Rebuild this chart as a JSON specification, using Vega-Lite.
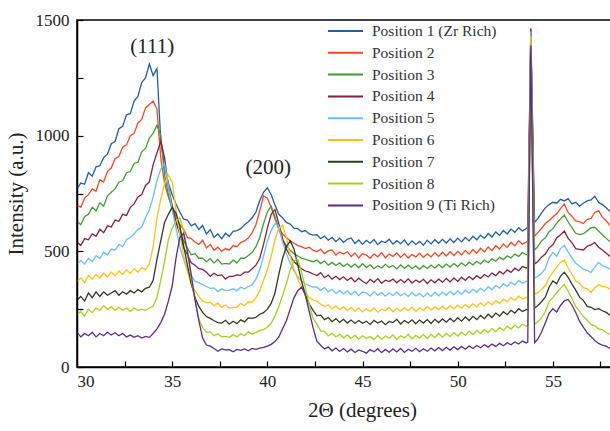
{
"$schema":"https://vega.github.io/schema/vega-lite/v6.json",
"width":533,"height":347,
"autosize":{"type":"none"},
"padding":{"left":77,"top":20,"right":0,"bottom":64},
"background":"white",
"config":{"view":{"stroke":null},"font":"Liberation Serif, Times New Roman, serif",
"text":{"font":"Liberation Serif, Times New Roman, serif"},
"axis":{"grid":false,"domain":true,"ticks":true,"domainColor":"black","tickColor":"black","domainWidth":1.5,"tickWidth":1.2}},
"datasets":{"frame":[{"fx":58.5,"fy":0,"o":1},{"fx":30,"fy":0,"o":2},{"fx":30,"fy":1500,"o":3},{"fx":58.5,"fy":1500,"o":4}]},
"data":{"values":[
{"x":30.0,"p1":770,"p2":700,"p3":630,"p4":540,"p5":445,"p6":370,"p7":290,"p8":225,"p9":150},
{"x":30.2,"p1":795,"p2":690,"p3":615,"p4":525,"p5":460,"p6":385,"p7":305,"p8":240,"p9":130},
{"x":30.4,"p1":790,"p2":730,"p3":650,"p4":555,"p5":445,"p6":365,"p7":285,"p8":220,"p9":145},
{"x":30.6,"p1":840,"p2":745,"p3":660,"p4":550,"p5":470,"p6":395,"p7":320,"p8":250,"p9":135},
{"x":30.8,"p1":825,"p2":770,"p3":690,"p4":575,"p5":455,"p6":380,"p7":300,"p8":235,"p9":150},
{"x":31.0,"p1":865,"p2":760,"p3":675,"p4":565,"p5":480,"p6":400,"p7":325,"p8":255,"p9":130},
{"x":31.2,"p1":870,"p2":810,"p3":710,"p4":595,"p5":470,"p6":385,"p7":305,"p8":245,"p9":145},
{"x":31.4,"p1":905,"p2":800,"p3":695,"p4":580,"p5":495,"p6":405,"p7":325,"p8":265,"p9":135},
{"x":31.6,"p1":920,"p2":845,"p3":740,"p4":610,"p5":485,"p6":390,"p7":310,"p8":250,"p9":150},
{"x":31.8,"p1":965,"p2":860,"p3":755,"p4":605,"p5":510,"p6":410,"p7":320,"p8":260,"p9":138},
{"x":32.0,"p1":975,"p2":900,"p3":770,"p4":635,"p5":505,"p6":395,"p7":330,"p8":245,"p9":148},
{"x":32.2,"p1":1030,"p2":910,"p3":800,"p4":630,"p5":530,"p6":415,"p7":310,"p8":258,"p9":135},
{"x":32.4,"p1":1040,"p2":950,"p3":805,"p4":660,"p5":520,"p6":400,"p7":325,"p8":245,"p9":145},
{"x":32.6,"p1":1090,"p2":960,"p3":840,"p4":655,"p5":550,"p6":420,"p7":315,"p8":255,"p9":130},
{"x":32.8,"p1":1095,"p2":1000,"p3":845,"p4":690,"p5":560,"p6":405,"p7":330,"p8":240,"p9":138},
{"x":33.0,"p1":1150,"p2":1010,"p3":880,"p4":705,"p5":575,"p6":425,"p7":320,"p8":255,"p9":128},
{"x":33.2,"p1":1170,"p2":1055,"p3":885,"p4":735,"p5":595,"p6":410,"p7":335,"p8":245,"p9":135},
{"x":33.4,"p1":1230,"p2":1070,"p3":930,"p4":745,"p5":605,"p6":430,"p7":325,"p8":250,"p9":125},
{"x":33.6,"p1":1250,"p2":1120,"p3":945,"p4":785,"p5":645,"p6":420,"p7":340,"p8":245,"p9":132},
{"x":33.8,"p1":1310,"p2":1135,"p3":990,"p4":800,"p5":680,"p6":445,"p7":345,"p8":255,"p9":128},
{"x":34.0,"p1":1260,"p2":1150,"p3":1010,"p4":875,"p5":735,"p6":520,"p7":375,"p8":262,"p9":145},
{"x":34.2,"p1":1290,"p2":1115,"p3":1045,"p4":925,"p5":805,"p6":645,"p7":465,"p8":300,"p9":165},
{"x":34.4,"p1":980,"p2":905,"p3":1000,"p4":975,"p5":855,"p6":725,"p7":545,"p8":375,"p9":192},
{"x":34.6,"p1":865,"p2":795,"p3":830,"p4":905,"p5":880,"p6":795,"p7":625,"p8":455,"p9":228},
{"x":34.8,"p1":795,"p2":735,"p3":745,"p4":780,"p5":785,"p6":830,"p7":660,"p8":550,"p9":285},
{"x":35.0,"p1":745,"p2":690,"p3":680,"p4":700,"p5":680,"p6":800,"p7":690,"p8":600,"p9":350},
{"x":35.2,"p1":705,"p2":650,"p3":630,"p4":625,"p5":600,"p6":680,"p7":665,"p8":630,"p9":470},
{"x":35.4,"p1":670,"p2":615,"p3":595,"p4":575,"p5":520,"p6":575,"p7":610,"p8":645,"p9":560},
{"x":35.6,"p1":640,"p2":595,"p3":545,"p4":515,"p5":465,"p6":480,"p7":525,"p8":590,"p9":578},
{"x":35.8,"p1":635,"p2":560,"p3":515,"p4":485,"p5":415,"p6":415,"p7":440,"p8":500,"p9":500},
{"x":36.0,"p1":610,"p2":555,"p3":485,"p4":450,"p5":395,"p6":355,"p7":360,"p8":380,"p9":400},
{"x":36.2,"p1":620,"p2":540,"p3":490,"p4":440,"p5":370,"p6":330,"p7":300,"p8":290,"p9":290},
{"x":36.4,"p1":595,"p2":530,"p3":470,"p4":425,"p5":365,"p6":305,"p7":262,"p8":210,"p9":200},
{"x":36.6,"p1":612,"p2":548,"p3":470,"p4":422,"p5":356,"p6":284,"p7":236,"p8":170,"p9":125},
{"x":36.8,"p1":575,"p2":515,"p3":455,"p4":410,"p5":348,"p6":278,"p7":218,"p8":150,"p9":95},
{"x":37.0,"p1":594,"p2":530,"p3":468,"p4":392,"p5":340,"p6":280,"p7":210,"p8":152,"p9":90},
{"x":37.2,"p1":560,"p2":505,"p3":450,"p4":405,"p5":342,"p6":265,"p7":200,"p8":135,"p9":80},
{"x":37.4,"p1":575,"p2":518,"p3":465,"p4":395,"p5":326,"p6":276,"p7":192,"p8":144,"p9":68},
{"x":37.6,"p1":555,"p2":500,"p3":445,"p4":398,"p5":338,"p6":258,"p7":190,"p8":130,"p9":78},
{"x":37.8,"p1":578,"p2":512,"p3":448,"p4":380,"p5":330,"p6":268,"p7":202,"p8":132,"p9":74},
{"x":38.0,"p1":565,"p2":505,"p3":445,"p4":392,"p5":332,"p6":255,"p7":185,"p8":128,"p9":75},
{"x":38.2,"p1":586,"p2":525,"p3":462,"p4":392,"p5":338,"p6":258,"p7":198,"p8":140,"p9":66},
{"x":38.4,"p1":590,"p2":520,"p3":450,"p4":398,"p5":330,"p6":258,"p7":188,"p8":130,"p9":76},
{"x":38.6,"p1":598,"p2":538,"p3":470,"p4":396,"p5":345,"p6":275,"p7":204,"p8":144,"p9":72},
{"x":38.8,"p1":615,"p2":545,"p3":470,"p4":410,"p5":338,"p6":265,"p7":195,"p8":135,"p9":78},
{"x":39.0,"p1":628,"p2":558,"p3":482,"p4":410,"p5":348,"p6":282,"p7":212,"p8":152,"p9":70},
{"x":39.2,"p1":645,"p2":580,"p3":495,"p4":425,"p5":355,"p6":280,"p7":210,"p8":142,"p9":80},
{"x":39.4,"p1":670,"p2":615,"p3":520,"p4":440,"p5":380,"p6":300,"p7":215,"p8":150,"p9":76},
{"x":39.6,"p1":720,"p2":675,"p3":560,"p4":470,"p5":420,"p6":330,"p7":228,"p8":158,"p9":82},
{"x":39.8,"p1":755,"p2":740,"p3":620,"p4":530,"p5":480,"p6":375,"p7":235,"p8":162,"p9":85},
{"x":40.0,"p1":775,"p2":730,"p3":670,"p4":600,"p5":545,"p6":420,"p7":250,"p8":172,"p9":90},
{"x":40.2,"p1":745,"p2":690,"p3":695,"p4":660,"p5":590,"p6":480,"p7":275,"p8":190,"p9":98},
{"x":40.4,"p1":700,"p2":640,"p3":650,"p4":680,"p5":620,"p6":550,"p7":320,"p8":220,"p9":110},
{"x":40.6,"p1":660,"p2":600,"p3":595,"p4":620,"p5":610,"p6":600,"p7":400,"p8":260,"p9":130},
{"x":40.8,"p1":645,"p2":575,"p3":550,"p4":555,"p5":540,"p6":612,"p7":470,"p8":310,"p9":165},
{"x":41.0,"p1":625,"p2":560,"p3":525,"p4":510,"p5":490,"p6":560,"p7":520,"p8":360,"p9":200},
{"x":41.2,"p1":618,"p2":545,"p3":505,"p4":480,"p5":450,"p6":480,"p7":545,"p8":420,"p9":250},
{"x":41.4,"p1":600,"p2":535,"p3":490,"p4":455,"p5":415,"p6":425,"p7":510,"p8":460,"p9":300},
{"x":41.6,"p1":598,"p2":525,"p3":480,"p4":440,"p5":390,"p6":380,"p7":440,"p8":465,"p9":330},
{"x":41.8,"p1":585,"p2":520,"p3":470,"p4":425,"p5":372,"p6":345,"p7":370,"p8":410,"p9":345},
{"x":42.0,"p1":590,"p2":512,"p3":465,"p4":415,"p5":360,"p6":320,"p7":310,"p8":340,"p9":310},
{"x":42.2,"p1":575,"p2":518,"p3":460,"p4":410,"p5":352,"p6":300,"p7":272,"p8":270,"p9":240},
{"x":42.4,"p1":570,"p2":505,"p3":455,"p4":402,"p5":345,"p6":290,"p7":245,"p8":210,"p9":170},
{"x":42.6,"p1":572,"p2":498,"p3":462,"p4":395,"p5":346,"p6":285,"p7":222,"p8":185,"p9":112},
{"x":42.8,"p1":555,"p2":510,"p3":447,"p4":408,"p5":331,"p6":270,"p7":224,"p8":156,"p9":94},
{"x":43.0,"p1":566,"p2":490,"p3":458,"p4":386,"p5":344,"p6":262,"p7":205,"p8":154,"p9":78},
{"x":43.2,"p1":548,"p2":502,"p3":440,"p4":397,"p5":325,"p6":268,"p7":214,"p8":135,"p9":86},
{"x":43.4,"p1":560,"p2":506,"p3":452,"p4":380,"p5":336,"p6":252,"p7":196,"p8":146,"p9":70},
{"x":43.6,"p1":542,"p2":484,"p3":439,"p4":392,"p5":318,"p6":264,"p7":209,"p8":130,"p9":82},
{"x":43.8,"p1":557,"p2":497,"p3":450,"p4":378,"p5":330,"p6":248,"p7":193,"p8":141,"p9":67},
{"x":44.0,"p1":539,"p2":488,"p3":435,"p4":390,"p5":316,"p6":260,"p7":206,"p8":126,"p9":80},
{"x":44.2,"p1":552,"p2":499,"p3":446,"p4":374,"p5":329,"p6":244,"p7":190,"p8":138,"p9":65},
{"x":44.4,"p1":558,"p2":478,"p3":432,"p4":386,"p5":312,"p6":257,"p7":203,"p8":124,"p9":77},
{"x":44.6,"p1":534,"p2":493,"p3":445,"p4":368,"p5":327,"p6":242,"p7":188,"p8":137,"p9":63},
{"x":44.8,"p1":549,"p2":471,"p3":429,"p4":384,"p5":309,"p6":256,"p7":201,"p8":121,"p9":74},
{"x":45.0,"p1":530,"p2":490,"p3":447,"p4":371,"p5":324,"p6":238,"p7":189,"p8":135,"p9":68},
{"x":45.2,"p1":547,"p2":484,"p3":430,"p4":360,"p5":320,"p6":252,"p7":198,"p8":123,"p9":60},
{"x":45.4,"p1":535,"p2":470,"p3":442,"p4":379,"p5":307,"p6":240,"p7":184,"p8":132,"p9":75},
{"x":45.6,"p1":551,"p2":489,"p3":425,"p4":366,"p5":325,"p6":255,"p7":202,"p8":118,"p9":66},
{"x":45.8,"p1":529,"p2":476,"p3":438,"p4":382,"p5":310,"p6":237,"p7":190,"p8":136,"p9":79},
{"x":46.0,"p1":544,"p2":495,"p3":428,"p4":362,"p5":322,"p6":250,"p7":199,"p8":120,"p9":62},
{"x":46.2,"p1":538,"p2":472,"p3":444,"p4":375,"p5":306,"p6":243,"p7":183,"p8":134,"p9":76},
{"x":46.4,"p1":552,"p2":488,"p3":430,"p4":369,"p5":321,"p6":258,"p7":197,"p8":124,"p9":64},
{"x":46.6,"p1":531,"p2":478,"p3":439,"p4":380,"p5":309,"p6":239,"p7":192,"p8":139,"p9":78},
{"x":46.8,"p1":546,"p2":493,"p3":424,"p4":364,"p5":324,"p6":254,"p7":206,"p8":119,"p9":65},
{"x":47.0,"p1":533,"p2":474,"p3":441,"p4":378,"p5":308,"p6":241,"p7":186,"p8":135,"p9":80},
{"x":47.2,"p1":549,"p2":490,"p3":427,"p4":365,"p5":319,"p6":257,"p7":201,"p8":126,"p9":63},
{"x":47.4,"p1":527,"p2":471,"p3":440,"p4":381,"p5":305,"p6":243,"p7":190,"p8":141,"p9":77},
{"x":47.6,"p1":545,"p2":486,"p3":425,"p4":363,"p5":322,"p6":259,"p7":204,"p8":121,"p9":68},
{"x":47.8,"p1":530,"p2":476,"p3":437,"p4":376,"p5":307,"p6":240,"p7":187,"p8":137,"p9":81},
{"x":48.0,"p1":543,"p2":492,"p3":423,"p4":366,"p5":318,"p6":256,"p7":203,"p8":125,"p9":66},
{"x":48.2,"p1":526,"p2":474,"p3":438,"p4":379,"p5":303,"p6":245,"p7":190,"p8":140,"p9":79},
{"x":48.4,"p1":548,"p2":489,"p3":426,"p4":361,"p5":320,"p6":261,"p7":205,"p8":123,"p9":68},
{"x":48.6,"p1":532,"p2":476,"p3":441,"p4":377,"p5":305,"p6":246,"p7":188,"p8":142,"p9":82},
{"x":48.8,"p1":550,"p2":494,"p3":428,"p4":364,"p5":323,"p6":260,"p7":206,"p8":127,"p9":70},
{"x":49.0,"p1":535,"p2":478,"p3":443,"p4":380,"p5":308,"p6":248,"p7":192,"p8":145,"p9":84},
{"x":49.2,"p1":552,"p2":496,"p3":430,"p4":366,"p5":324,"p6":263,"p7":208,"p8":129,"p9":71},
{"x":49.4,"p1":536,"p2":480,"p3":445,"p4":383,"p5":310,"p6":249,"p7":194,"p8":146,"p9":85},
{"x":49.6,"p1":554,"p2":498,"p3":432,"p4":368,"p5":327,"p6":265,"p7":210,"p8":131,"p9":73},
{"x":49.8,"p1":538,"p2":482,"p3":447,"p4":385,"p5":312,"p6":251,"p7":196,"p8":148,"p9":87},
{"x":50.0,"p1":557,"p2":500,"p3":434,"p4":370,"p5":329,"p6":267,"p7":213,"p8":134,"p9":75},
{"x":50.2,"p1":541,"p2":485,"p3":450,"p4":388,"p5":315,"p6":254,"p7":198,"p8":151,"p9":89},
{"x":50.4,"p1":560,"p2":504,"p3":437,"p4":374,"p5":332,"p6":270,"p7":216,"p8":137,"p9":77},
{"x":50.6,"p1":545,"p2":488,"p3":453,"p4":391,"p5":319,"p6":257,"p7":201,"p8":154,"p9":91},
{"x":50.8,"p1":565,"p2":508,"p3":441,"p4":378,"p5":336,"p6":273,"p7":219,"p8":140,"p9":80},
{"x":51.0,"p1":550,"p2":492,"p3":457,"p4":395,"p5":323,"p6":260,"p7":205,"p8":158,"p9":93},
{"x":51.2,"p1":570,"p2":513,"p3":446,"p4":383,"p5":341,"p6":277,"p7":223,"p8":144,"p9":83},
{"x":51.4,"p1":556,"p2":497,"p3":462,"p4":400,"p5":328,"p6":264,"p7":209,"p8":162,"p9":96},
{"x":51.6,"p1":577,"p2":519,"p3":451,"p4":389,"p5":347,"p6":282,"p7":228,"p8":149,"p9":86},
{"x":51.8,"p1":562,"p2":503,"p3":468,"p4":406,"p5":334,"p6":269,"p7":214,"p8":166,"p9":99},
{"x":52.0,"p1":584,"p2":525,"p3":457,"p4":395,"p5":353,"p6":287,"p7":233,"p8":153,"p9":89},
{"x":52.2,"p1":569,"p2":510,"p3":474,"p4":413,"p5":341,"p6":275,"p7":220,"p8":171,"p9":102},
{"x":52.4,"p1":590,"p2":532,"p3":464,"p4":402,"p5":360,"p6":293,"p7":239,"p8":158,"p9":92},
{"x":52.6,"p1":575,"p2":517,"p3":481,"p4":420,"p5":348,"p6":281,"p7":226,"p8":176,"p9":105},
{"x":52.8,"p1":596,"p2":539,"p3":471,"p4":409,"p5":367,"p6":300,"p7":245,"p8":164,"p9":96},
{"x":53.0,"p1":582,"p2":524,"p3":488,"p4":427,"p5":355,"p6":288,"p7":233,"p8":181,"p9":108},
{"x":53.2,"p1":602,"p2":546,"p3":478,"p4":416,"p5":374,"p6":306,"p7":252,"p8":169,"p9":99},
{"x":53.4,"p1":588,"p2":531,"p3":495,"p4":434,"p5":362,"p6":295,"p7":240,"p8":186,"p9":112},
{"x":53.6,"p1":598,"p2":540,"p3":485,"p4":428,"p5":370,"p6":300,"p7":248,"p8":176,"p9":104},
{"x":53.68,"p1":605,"p2":545,"p3":490,"p4":432,"p5":372,"p6":305,"p7":250,"p8":180,"p9":108},
{"x":53.84,"p1":1440,"p2":1465,"p3":1400,"p4":1460,"p5":1450,"p6":1430,"p7":1380,"p8":1410,"p9":1390},
{"x":54.04,"p1":625,"p2":565,"p3":505,"p4":445,"p5":385,"p6":315,"p7":255,"p8":185,"p9":105},
{"x":54.2,"p1":640,"p2":580,"p3":520,"p4":455,"p5":390,"p6":320,"p7":265,"p8":195,"p9":120},
{"x":54.4,"p1":665,"p2":598,"p3":545,"p4":475,"p5":405,"p6":335,"p7":282,"p8":212,"p9":150},
{"x":54.6,"p1":688,"p2":620,"p3":558,"p4":488,"p5":425,"p6":352,"p7":302,"p8":240,"p9":190},
{"x":54.8,"p1":702,"p2":632,"p3":585,"p4":515,"p5":472,"p6":385,"p7":345,"p8":282,"p9":232},
{"x":55.0,"p1":712,"p2":648,"p3":598,"p4":528,"p5":495,"p6":410,"p7":372,"p8":300,"p9":252},
{"x":55.2,"p1":708,"p2":662,"p3":622,"p4":558,"p5":478,"p6":432,"p7":360,"p8":322,"p9":238},
{"x":55.4,"p1":725,"p2":685,"p3":640,"p4":572,"p5":512,"p6":452,"p7":392,"p8":340,"p9":266},
{"x":55.6,"p1":718,"p2":705,"p3":657,"p4":588,"p5":526,"p6":462,"p7":410,"p8":357,"p9":286},
{"x":55.8,"p1":728,"p2":668,"p3":628,"p4":556,"p5":498,"p6":428,"p7":388,"p8":328,"p9":292},
{"x":56.0,"p1":705,"p2":652,"p3":602,"p4":538,"p5":472,"p6":402,"p7":358,"p8":296,"p9":268},
{"x":56.2,"p1":712,"p2":632,"p3":578,"p4":512,"p5":448,"p6":372,"p7":332,"p8":262,"p9":236},
{"x":56.4,"p1":695,"p2":628,"p3":572,"p4":508,"p5":437,"p6":362,"p7":302,"p8":242,"p9":198},
{"x":56.6,"p1":708,"p2":620,"p3":576,"p4":506,"p5":422,"p6":343,"p7":288,"p8":218,"p9":172},
{"x":56.8,"p1":718,"p2":638,"p3":588,"p4":522,"p5":418,"p6":338,"p7":262,"p8":202,"p9":148},
{"x":57.0,"p1":722,"p2":642,"p3":602,"p4":528,"p5":408,"p6":322,"p7":258,"p8":184,"p9":132},
{"x":57.2,"p1":738,"p2":668,"p3":604,"p4":538,"p5":432,"p6":342,"p7":248,"p8":178,"p9":114},
{"x":57.4,"p1":712,"p2":676,"p3":588,"p4":518,"p5":452,"p6":356,"p7":252,"p8":165,"p9":102},
{"x":57.6,"p1":702,"p2":648,"p3":572,"p4":506,"p5":438,"p6":348,"p7":243,"p8":162,"p9":94},
{"x":57.8,"p1":688,"p2":632,"p3":556,"p4":492,"p5":432,"p6":346,"p7":236,"p8":148,"p9":90},
{"x":58.0,"p1":672,"p2":612,"p3":542,"p4":478,"p5":424,"p6":338,"p7":224,"p8":142,"p9":80}
]},
"layer":[
{"mark":{"type":"line","strokeWidth":1.3,"clip":true},
 "transform":[{"fold":["p1","p2","p3","p4","p5","p6","p7","p8","p9"],"as":["s","v"]}],
 "encoding":{
  "x":{"field":"x","type":"quantitative","scale":{"domain":[30,58],"nice":false,"zero":false},
       "axis":{"orient":"bottom","tickSize":-6,
         "values":[30,32.5,35,37.5,40,42.5,45,47.5,50,52.5,55,57.5],"format":"d",
         "labelExpr":"datum.value % 5 === 0 ? datum.label : ''",
         "labelFont":"Liberation Serif, Times New Roman, serif","labelFontSize":17,"labelColor":"#222","labelPadding":12,
         "title":"2Θ (degrees)","titleFont":"Liberation Serif, Times New Roman, serif","titleFontSize":21,"titleFontWeight":"normal","titleColor":"#222",
         "titleX":285,"titleY":43,"titleBaseline":"middle","titleAlign":"center"}},
  "y":{"field":"v","type":"quantitative","scale":{"domain":[0,1500],"nice":false,"zero":true},
       "axis":{"orient":"left","tickSize":-6,
         "values":[0,250,500,750,1000,1250,1500],"format":"d",
         "labelExpr":"datum.value % 500 === 0 ? datum.label : ''",
         "labelFont":"Liberation Serif, Times New Roman, serif","labelFontSize":17,"labelColor":"#222","labelPadding":14,
         "title":"Intensity (a.u.)","titleFont":"Liberation Serif, Times New Roman, serif","titleFontSize":21,"titleFontWeight":"normal","titleColor":"#222",
         "titleX":-61,"titleY":173.5,"titleAngle":-90,"titleBaseline":"middle","titleAlign":"center"}},
  "color":{"field":"s","type":"nominal",
    "scale":{"domain":["p1","p2","p3","p4","p5","p6","p7","p8","p9"],"range":["#1f5fa6","#ff4422","#3e9e30","#8b1e3f","#66bfff","#ffc20e","#2e3d1e","#a5d219","#5b2c8f"]},
    "legend":{"orient":"none","legendX":250,"legendY":1,"title":null,"symbolType":"stroke","symbolSize":1225,"symbolStrokeWidth":2,"labelFont":"Liberation Serif, Times New Roman, serif","labelFontSize":15.5,"labelColor":"#333","labelOffset":8,"clipHeight":20,"rowPadding":1.8,"padding":0,
      "labelExpr":"{'p1':'Position 1 (Zr Rich)','p2':'Position 2','p3':'Position 3','p4':'Position 4','p5':'Position 5','p6':'Position 6','p7':'Position 7','p8':'Position 8','p9':'Position 9 (Ti Rich)'}[datum.label]"}}
 }},
{"data":{"name":"frame"},
 "mark":{"type":"line","color":"black","strokeWidth":1.5,"clip":false},
 "encoding":{
  "x":{"field":"fx","type":"quantitative"},
  "y":{"field":"fy","type":"quantitative"},
  "order":{"field":"o","type":"quantitative"}
 }},
{"data":{"values":[{"x":33.95,"y":1383,"t":"(111)"},{"x":40.05,"y":860,"t":"(200)"}]},
 "mark":{"type":"text","font":"Liberation Serif, Times New Roman, serif","fontSize":21,"color":"#222","baseline":"middle","align":"center"},
 "encoding":{
  "x":{"field":"x","type":"quantitative"},
  "y":{"field":"y","type":"quantitative"},
  "text":{"field":"t"}
 }}
]
}
